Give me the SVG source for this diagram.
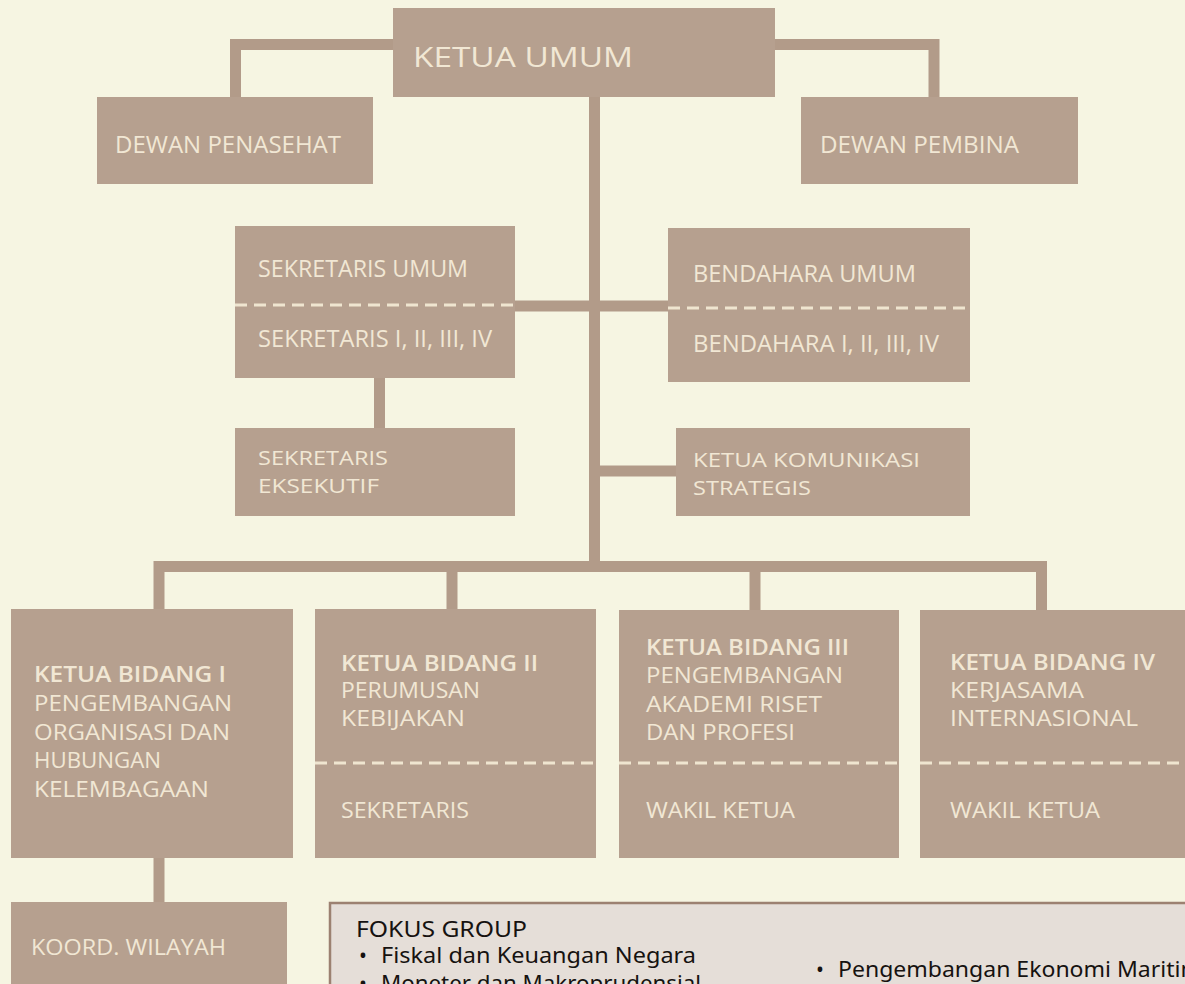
<svg xmlns="http://www.w3.org/2000/svg" width="1185" height="984" viewBox="0 0 1185 984">
<style>
.bg{fill:#f6f5e2}
.box{fill:#b6a08f}
.conn{fill:none;stroke:#b29b89;stroke-width:11;stroke-linejoin:miter;stroke-linecap:butt}
.dash{stroke:#efe5d0;stroke-width:3;stroke-dasharray:12 7;fill:none}
.t{font-family:"Open Sans","Liberation Sans",sans-serif;fill:#f1e7d4;font-weight:400}
.tb{font-family:"Open Sans","Liberation Sans",sans-serif;fill:#f1e7d4;font-weight:600}
.fbox{fill:#e5ded8;stroke:#9c8171;stroke-width:2.5}
.f{font-family:"Noto Sans","Lato","Liberation Sans",sans-serif;fill:#161210;font-size:21px}
</style>
<rect class="bg" x="0" y="0" width="1185" height="984"/>

<g id="connectors">
<path class="conn" d="M393 44.5 H235.5 V97"/>
<path class="conn" d="M775 44.5 H934 V97"/>
<path class="conn" d="M594.5 97 V572"/>
<path class="conn" d="M515 306 H668"/>
<path class="conn" d="M594.5 471 H676"/>
<path class="conn" d="M379.5 378 V428"/>
<path class="conn" d="M159 610 V566.5 H1041.5 V610"/>
<path class="conn" d="M452 566 V610"/>
<path class="conn" d="M755 566 V610"/>
<path class="conn" d="M159 858 V902"/>
</g>

<g id="ketua-umum">
<rect class="box" x="393" y="8" width="382" height="89"/>
<text class="t" x="413" y="67" font-size="28" textLength="220" lengthAdjust="spacingAndGlyphs">KETUA UMUM</text>
</g>

<g id="dewan-penasehat">
<rect class="box" x="97" y="97" width="276" height="87"/>
<text class="t" x="115" y="153" font-size="24" textLength="226" lengthAdjust="spacingAndGlyphs">DEWAN PENASEHAT</text>
</g>

<g id="dewan-pembina">
<rect class="box" x="801" y="97" width="277" height="87"/>
<text class="t" x="820" y="153" font-size="24" textLength="199" lengthAdjust="spacingAndGlyphs">DEWAN PEMBINA</text>
</g>

<g id="sekretaris-umum">
<rect class="box" x="235" y="226" width="280" height="152"/>
<text class="t" x="258" y="277" font-size="23" textLength="210" lengthAdjust="spacingAndGlyphs">SEKRETARIS UMUM</text>
<line class="dash" x1="235" y1="305" x2="515" y2="305"/>
<text class="t" x="258" y="347" font-size="23" textLength="234" lengthAdjust="spacingAndGlyphs">SEKRETARIS I, II, III, IV</text>
</g>

<g id="bendahara-umum">
<rect class="box" x="668" y="228" width="302" height="154"/>
<text class="t" x="693" y="282" font-size="23" textLength="223" lengthAdjust="spacingAndGlyphs">BENDAHARA UMUM</text>
<line class="dash" x1="668" y1="308" x2="970" y2="308"/>
<text class="t" x="693" y="352" font-size="23" textLength="246" lengthAdjust="spacingAndGlyphs">BENDAHARA I, II, III, IV</text>
</g>

<g id="sekretaris-eksekutif">
<rect class="box" x="235" y="428" width="280" height="88"/>
<text class="t" x="258" y="465" font-size="20" textLength="130" lengthAdjust="spacingAndGlyphs">SEKRETARIS</text>
<text class="t" x="258" y="493" font-size="20" textLength="121" lengthAdjust="spacingAndGlyphs">EKSEKUTIF</text>
</g>

<g id="ketua-komunikasi">
<rect class="box" x="676" y="428" width="294" height="88"/>
<text class="t" x="693" y="467" font-size="20" textLength="227" lengthAdjust="spacingAndGlyphs">KETUA KOMUNIKASI</text>
<text class="t" x="693" y="495" font-size="20" textLength="118" lengthAdjust="spacingAndGlyphs">STRATEGIS</text>
</g>

<g id="bidang-1">
<rect class="box" x="11" y="609" width="282" height="249"/>
<text class="tb" x="34" y="682" font-size="21" textLength="192" lengthAdjust="spacingAndGlyphs">KETUA BIDANG I</text>
<text class="t" x="34" y="711" font-size="21" textLength="198" lengthAdjust="spacingAndGlyphs">PENGEMBANGAN</text>
<text class="t" x="34" y="740" font-size="21" textLength="196" lengthAdjust="spacingAndGlyphs">ORGANISASI DAN</text>
<text class="t" x="34" y="768" font-size="21" textLength="127" lengthAdjust="spacingAndGlyphs">HUBUNGAN</text>
<text class="t" x="34" y="797" font-size="21" textLength="175" lengthAdjust="spacingAndGlyphs">KELEMBAGAAN</text>
</g>

<g id="bidang-2">
<rect class="box" x="315" y="609" width="281" height="249"/>
<text class="tb" x="341" y="671" font-size="21" textLength="197" lengthAdjust="spacingAndGlyphs">KETUA BIDANG II</text>
<text class="t" x="341" y="698" font-size="21" textLength="139" lengthAdjust="spacingAndGlyphs">PERUMUSAN</text>
<text class="t" x="341" y="726" font-size="21" textLength="124" lengthAdjust="spacingAndGlyphs">KEBIJAKAN</text>
<line class="dash" x1="315" y1="763" x2="596" y2="763"/>
<text class="t" x="341" y="818" font-size="21" textLength="128" lengthAdjust="spacingAndGlyphs">SEKRETARIS</text>
</g>

<g id="bidang-3">
<rect class="box" x="619" y="610" width="280" height="248"/>
<text class="tb" x="646" y="655" font-size="21" textLength="203" lengthAdjust="spacingAndGlyphs">KETUA BIDANG III</text>
<text class="t" x="646" y="683" font-size="21" textLength="197" lengthAdjust="spacingAndGlyphs">PENGEMBANGAN</text>
<text class="t" x="646" y="712" font-size="21" textLength="176" lengthAdjust="spacingAndGlyphs">AKADEMI RISET</text>
<text class="t" x="646" y="740" font-size="21" textLength="149" lengthAdjust="spacingAndGlyphs">DAN PROFESI</text>
<line class="dash" x1="619" y1="763" x2="899" y2="763"/>
<text class="t" x="646" y="818" font-size="21" textLength="149" lengthAdjust="spacingAndGlyphs">WAKIL KETUA</text>
</g>

<g id="bidang-4">
<rect class="box" x="920" y="610" width="280" height="248"/>
<text class="tb" x="950" y="670" font-size="21" textLength="205" lengthAdjust="spacingAndGlyphs">KETUA BIDANG IV</text>
<text class="t" x="950" y="698" font-size="21" textLength="134" lengthAdjust="spacingAndGlyphs">KERJASAMA</text>
<text class="t" x="950" y="726" font-size="21" textLength="188" lengthAdjust="spacingAndGlyphs">INTERNASIONAL</text>
<line class="dash" x1="920" y1="763" x2="1185" y2="763"/>
<text class="t" x="950" y="818" font-size="21" textLength="150" lengthAdjust="spacingAndGlyphs">WAKIL KETUA</text>
</g>

<g id="koord-wilayah">
<rect class="box" x="11" y="902" width="276" height="100"/>
<text class="t" x="31" y="955" font-size="21" textLength="195" lengthAdjust="spacingAndGlyphs">KOORD. WILAYAH</text>
</g>

<g id="fokus-group">
<rect class="fbox" x="330" y="903" width="880" height="100"/>
<text class="f" x="356" y="937" textLength="171" lengthAdjust="spacingAndGlyphs">FOKUS GROUP</text>
<text class="f" x="359" y="963">•</text>
<text class="f" x="381" y="963" textLength="315" lengthAdjust="spacingAndGlyphs">Fiskal dan Keuangan Negara</text>
<text class="f" x="359" y="991">•</text>
<text class="f" x="381" y="991" textLength="320" lengthAdjust="spacingAndGlyphs">Moneter dan Makroprudensial</text>
<text class="f" x="816" y="977">•</text>
<text class="f" x="838" y="977" textLength="364" lengthAdjust="spacingAndGlyphs">Pengembangan Ekonomi Maritim</text>
</g>
</svg>
